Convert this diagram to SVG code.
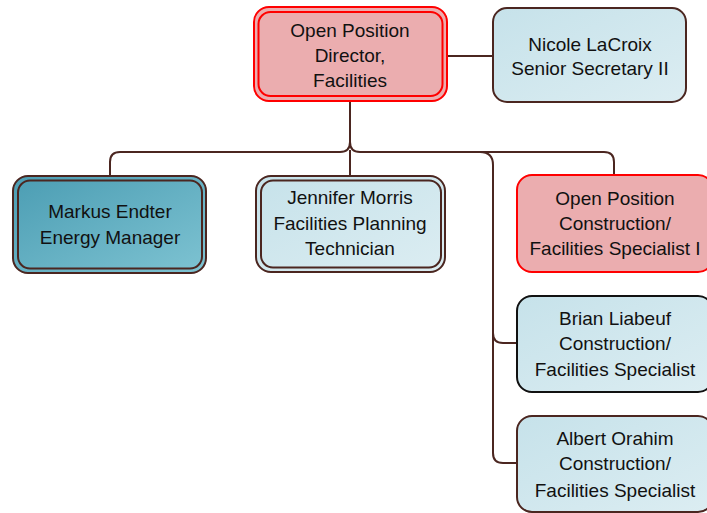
<svg xmlns="http://www.w3.org/2000/svg" width="707" height="513" viewBox="0 0 707 513">
<defs>
<linearGradient id="lb" x1="0" y1="0" x2="1" y2="1"><stop offset="0" stop-color="#c6e2ea"/><stop offset="1" stop-color="#dcedf2"/></linearGradient>
<linearGradient id="teal" x1="0" y1="0" x2="1" y2="1"><stop offset="0" stop-color="#4b9db3"/><stop offset="1" stop-color="#7ec3d2"/></linearGradient>
<style>
text{font-family:"Liberation Sans",Arial,sans-serif;font-size:19px;fill:#111;text-anchor:middle}
.con{fill:none;stroke:#4b2620;stroke-width:2}
.red{fill:#ebadaf;stroke:#ff0000;stroke-width:2}
.blue{fill:url(#lb);stroke:#4b2620;stroke-width:2}
.teal{fill:url(#teal);stroke:#4b2620;stroke-width:2}
</style>
</defs>
<g id="connectors">
<path class="con" d="M447,56 H493"/>
<path class="con" d="M350,101 V142 Q350,152 340,152 H120 Q110,152 110,162 V176"/>
<path class="con" d="M350,142 Q350,152 360,152 H604 Q614,152 614,162 V175"/>
<path class="con" d="M350,150 V176"/>
<path class="con" d="M480,152 Q493,152 493,165 V453 Q493,463 503,463 H517"/>
<path class="con" d="M493,333 Q493,343 503,343 H517"/>
</g>
<g id="director">
<rect class="red" x="254" y="7" width="193" height="94" rx="15"/>
<rect class="red" x="258.5" y="12" width="184" height="84" rx="12" stroke-width="2.5"/>
<text x="350" y="37">Open Position</text>
<text x="350" y="62">Director,</text>
<text x="350" y="87">Facilities</text>
</g>
<g id="nicole">
<rect class="blue" x="493" y="8" width="193" height="94" rx="14"/>
<text x="590" y="51">Nicole LaCroix</text>
<text x="590" y="75">Senior Secretary II</text>
</g>
<g id="markus">
<rect class="teal" x="13" y="176" width="193" height="97" rx="15"/>
<rect class="teal" x="18" y="180.5" width="184" height="88" rx="12" fill="none" style="fill:none"/>
<text x="110" y="218">Markus Endter</text>
<text x="110" y="244">Energy Manager</text>
</g>
<g id="jennifer">
<rect class="blue" x="256" y="176" width="189" height="96" rx="15"/>
<rect class="blue" x="261" y="180.5" width="180" height="87" rx="12" style="fill:none"/>
<text x="350" y="204">Jennifer Morris</text>
<text x="350" y="230">Facilities Planning</text>
<text x="350" y="255">Technician</text>
</g>
<g id="openpos">
<rect class="red" x="517" y="175" width="196" height="97" rx="15"/>
<text x="615" y="205">Open Position</text>
<text x="615" y="230">Construction/</text>
<text x="615" y="255">Facilities Specialist I</text>
</g>
<g id="brian">
<rect class="blue" x="517" y="296" width="196" height="96" rx="15" style="stroke:#111"/>
<text x="615" y="325">Brian Liabeuf</text>
<text x="615" y="350">Construction/</text>
<text x="615" y="376">Facilities Specialist</text>
</g>
<g id="albert">
<rect class="blue" x="517" y="416" width="196" height="96" rx="15"/>
<text x="615" y="445">Albert Orahim</text>
<text x="615" y="470">Construction/</text>
<text x="615" y="497">Facilities Specialist</text>
</g>
</svg>
